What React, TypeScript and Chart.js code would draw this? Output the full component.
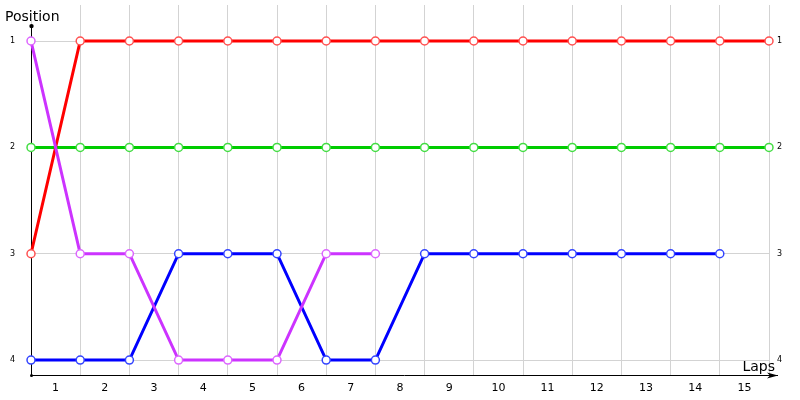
import { useEffect, useRef } from "react"
import { Chart, registerables } from "chart.js"

Chart.register(...registerables)

// lap labels sit between the lap boundaries
const lapLabels = ["1", "2", "3", "4", "5", "6", "7", "8", "9", "10", "11", "12", "13", "14", "15"]
const positionLabels = ["1", "2", "3", "4"]

// position at each lap boundary (0 = start)
const redPositions = [3, 1, 1, 1, 1, 1, 1, 1, 1, 1, 1, 1, 1, 1, 1, 1]
const greenPositions = [2, 2, 2, 2, 2, 2, 2, 2, 2, 2, 2, 2, 2, 2, 2, 2]
const purplePositions = [1, 3, 3, 4, 4, 4, 3, 3]
const bluePositions = [4, 4, 4, 3, 3, 3, 4, 4, 3, 3, 3, 3, 3, 3, 3]

const FONT = "'DejaVu Sans', sans-serif"
const GRID = "#d3d3d3"
const Y_MIN = 0.81
const Y_MAX = 4.14

const toPoints = (arr: number[]) => arr.map((y, i) => ({ x: i, y }))

const makeSet = (data: number[], line: string, point: string) => ({
  data: toPoints(data),
  borderColor: line,
  borderWidth: 3,
  pointRadius: 4,
  pointBorderWidth: 1.5,
  pointBorderColor: point,
  pointBackgroundColor: "#ffffff",
  tension: 0,
  clip: false as any,
})

// black axis lines, arrow, and titles
const axisPlugin = {
  id: "axisLines",
  beforeDatasetsDraw(chart: any) {
    const { ctx, chartArea, scales } = chart
    const x0 = scales.x.getPixelForValue(0)
    const yb = chartArea.bottom
    const yt = scales.y.getPixelForValue(0.86)
    const xr = chartArea.right + 9
    ctx.save()
    // vertical grid lines run a bit higher than the plot area
    ctx.strokeStyle = GRID
    ctx.lineWidth = 1
    ctx.beginPath()
    for (let i = 1; i <= lapLabels.length; i++) {
      const px = Math.round(scales.x.getPixelForValue(i) - 0.5) + 0.5
      ctx.moveTo(px, 5)
      ctx.lineTo(px, chartArea.top + 1)
    }
    ctx.stroke()

    ctx.strokeStyle = "#000"
    ctx.fillStyle = "#000"
    ctx.beginPath()
    ctx.moveTo(x0 + 0.5, yb)
    ctx.lineTo(x0 + 0.5, yt)
    ctx.moveTo(x0, yb + 0.5)
    ctx.lineTo(xr, yb + 0.5)
    ctx.stroke()
    ctx.beginPath()
    ctx.arc(x0 + 0.5, yt, 2.2, 0, Math.PI * 2)
    ctx.fill()
    ctx.beginPath()
    ctx.arc(x0 + 0.5, yb + 0.5, 1.5, 0, Math.PI * 2)
    ctx.fill()
    ctx.beginPath()
    ctx.moveTo(xr, yb + 0.5)
    ctx.lineTo(xr - 11, yb - 2.5)
    ctx.lineTo(xr - 8, yb + 0.5)
    ctx.lineTo(xr - 11, yb + 3.5)
    ctx.closePath()
    ctx.fill()
    ctx.restore()
  },
  afterDraw(chart: any) {
    const { ctx, chartArea } = chart
    ctx.save()
    ctx.fillStyle = "#000"
    ctx.font = `14px ${FONT}`
    ctx.textBaseline = "alphabetic"
    ctx.textAlign = "left"
    ctx.fillText("Position", 5, 21)
    ctx.textAlign = "right"
    ctx.fillText("Laps", chartArea.right + 6, chartArea.bottom - 4)
    ctx.restore()
  },
}

export default function App() {
  const canvasRef = useRef<HTMLCanvasElement>(null)
  const chartRef = useRef<Chart | null>(null)

  useEffect(() => {
    if (!canvasRef.current) return
    if (chartRef.current) chartRef.current.destroy()

    chartRef.current = new Chart(canvasRef.current, {
      type: "line",
      data: {
        datasets: [
          makeSet(purplePositions, "#cc33ff", "#dd66ff"),
          makeSet(redPositions, "#ff0000", "#ff5050"),
          makeSet(greenPositions, "#00cc00", "#44dd44"),
          makeSet(bluePositions, "#0000ff", "#3344ff"),
        ] as any,
      },
      options: {
        animation: false,
        responsive: true,
        maintainAspectRatio: false,
        layout: { padding: { top: 5, left: 0, right: 0, bottom: 0 } },
        plugins: {
          legend: { display: false },
          tooltip: { enabled: false },
        },
        scales: {
          x: {
            type: "linear",
            min: 0,
            max: 15,
            afterBuildTicks: (scale: any) => {
              const ticks = []
              for (let i = 0; i <= 15; i++) {
                ticks.push({ value: i })
                if (i < 15) ticks.push({ value: i + 0.5 })
              }
              scale.ticks = ticks
            },
            afterFit: (scale: any) => {
              scale.height = 25
            },
            border: { display: false },
            grid: {
              drawTicks: false,
              color: (c: any) => (c.tick && Number.isInteger(c.tick.value) ? GRID : "rgba(0,0,0,0)"),
            },
            ticks: {
              autoSkip: false,
              maxRotation: 0,
              padding: 7,
              color: "#000",
              font: { family: FONT, size: 11 },
              callback: (v: any) => (Number.isInteger(v) ? "" : lapLabels[v - 0.5]),
            },
          },
          y: {
            type: "linear",
            reverse: true,
            min: Y_MIN,
            max: Y_MAX,
            afterBuildTicks: (scale: any) => {
              scale.ticks = positionLabels.map((_, i) => ({ value: i + 1 }))
            },
            afterFit: (scale: any) => {
              scale.width = 31
            },
            border: { display: false },
            grid: { drawTicks: false, color: GRID },
            ticks: {
              padding: 16,
              color: "#000",
              font: { family: FONT, size: 8 },
              callback: (v: any) => positionLabels[v - 1],
            },
          },
          y2: {
            type: "linear",
            position: "right",
            reverse: true,
            min: Y_MIN,
            max: Y_MAX,
            afterBuildTicks: (scale: any) => {
              scale.ticks = positionLabels.map((_, i) => ({ value: i + 1 }))
            },
            afterFit: (scale: any) => {
              scale.width = 31
            },
            border: { display: false },
            grid: { display: false, drawTicks: false },
            ticks: {
              padding: 8,
              color: "#000",
              font: { family: FONT, size: 8 },
              callback: (v: any) => positionLabels[v - 1],
            },
          },
        },
      },
      plugins: [axisPlugin],
    })

    return () => {
      if (chartRef.current) {
        chartRef.current.destroy()
        chartRef.current = null
      }
    }
  }, [])

  return (
    <div style={{ position: "absolute", top: 0, left: 0, width: 800, height: 400, background: "#fff" }}>
      <canvas ref={canvasRef}></canvas>
    </div>
  )
}
